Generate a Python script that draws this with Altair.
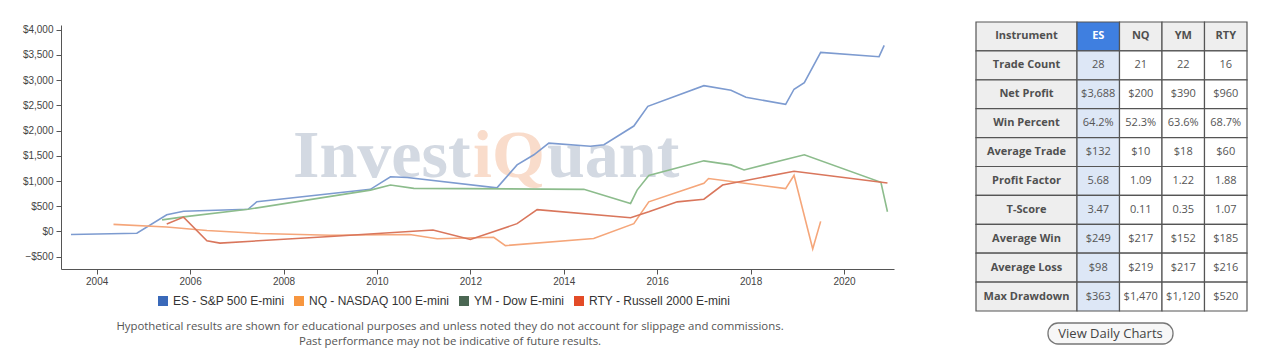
import altair as alt
import pandas as pd

# ---------------- data ----------------
series_names = ["ES - S&P 500 E-mini", "NQ - NASDAQ 100 E-mini", "YM - Dow E-mini", "RTY - Russell 2000 E-mini"]

es_year = [2003.45, 2004.86, 2005.50, 2005.86, 2007.24, 2007.43, 2009.86, 2010.29, 2010.65, 2012.57,
           2013.00, 2013.36, 2013.68, 2014.57, 2014.86, 2015.50, 2015.80, 2017.00, 2017.58, 2017.90,
           2018.75, 2018.93, 2019.15, 2019.50, 2020.75, 2020.86]
es_val = [-60, -35, 330, 400, 440, 590, 835, 1085, 1070, 865,
          1320, 1520, 1750, 1690, 1720, 2090, 2480, 2890, 2800, 2660,
          2520, 2820, 2950, 3550, 3465, 3688]

nq_year = [2004.36, 2005.50, 2006.36, 2007.50, 2009.00, 2010.70, 2011.29, 2012.50, 2012.75, 2014.64,
           2015.50, 2015.82, 2017.00, 2017.10, 2018.75, 2018.93, 2019.33, 2019.50]
nq_val = [140, 90, 20, -40, -75, -60, -145, -115, -280, -140,
          155, 587, 955, 1050, 850, 1115, -347, 200]

ym_year = [2005.40, 2005.86, 2007.24, 2009.86, 2010.29, 2010.79, 2014.43, 2015.43, 2015.57, 2015.82,
           2017.00, 2017.58, 2017.86, 2019.15, 2020.79, 2020.93]
ym_val = [230, 290, 440, 820, 920, 855, 835, 555, 820, 1110,
          1400, 1320, 1220, 1520, 975, 390]

rty_year = [2005.50, 2005.86, 2006.36, 2006.64, 2009.00, 2011.20, 2012.00, 2013.00, 2013.43, 2015.43,
            2015.82, 2016.43, 2017.00, 2017.40, 2018.93, 2020.93]
rty_val = [150, 285, -185, -230, -100, 30, -160, 155, 433, 273,
           390, 587, 640, 920, 1195, 960]

x_ticks = [2004, 2006, 2008, 2010, 2012, 2014, 2016, 2018, 2020]
y_ticks = [-500, 0, 500, 1000, 1500, 2000, 2500, 3000, 3500, 4000]

line_colors = ["#7d9bd0", "#f5a67a", "#8cbc8c", "#d9765c"]
legend_colors = ["#3a69b9", "#f7963f", "#4b6753", "#e34b27"]

# table data
table_cols = ["ES", "NQ", "YM", "RTY"]
table_rows = ["Instrument", "Trade Count", "Net Profit", "Win Percent", "Average Trade",
              "Profit Factor", "T-Score", "Average Win", "Average Loss", "Max Drawdown"]
es_stats = ["28", "$3,688", "64.2%", "$132", "5.68", "3.47", "$249", "$98", "$363"]
nq_stats = ["21", "$200", "52.3%", "$10", "1.09", "0.11", "$217", "$219", "$1,470"]
ym_stats = ["22", "$390", "63.6%", "$18", "1.22", "0.35", "$152", "$217", "$1,120"]
rty_stats = ["16", "$960", "68.7%", "$60", "1.88", "1.07", "$185", "$216", "$520"]

footnote_1 = "Hypothetical results are shown for educational purposes and unless noted they do not account for slippage and commissions."
footnote_2 = "Past performance may not be indicative of future results."

# ---------------- build frames ----------------
recs = []
for name, ys, vs in zip(series_names, [es_year, nq_year, ym_year, rty_year], [es_val, nq_val, ym_val, rty_val]):
    for i, (yr, v) in enumerate(zip(ys, vs)):
        recs.append({"series": name, "year": yr, "value": v, "idx": i})
df = pd.DataFrame(recs)

cells = []
for c, stats in zip(table_cols, [es_stats, nq_stats, ym_stats, rty_stats]):
    cells.append({"row": "Instrument", "col": c, "text": c,
                  "kind": "esHead" if c == "ES" else "head"})
    for r, t in zip(table_rows[1:], stats):
        cells.append({"row": r, "col": c, "text": t, "kind": "es" if c == "ES" else "cell"})
cells_df = pd.DataFrame(cells)
first_df = pd.DataFrame({"row": table_rows})
one = pd.DataFrame({"a": [0]})

W, H = 833, 244
FONT = "Liberation Sans"

x_enc = alt.X("year:Q", scale=alt.Scale(domain=[2003.236, 2021.07], nice=False, zero=False),
              axis=alt.Axis(values=x_ticks, format="d", title=None, grid=False, tickSize=5,
                            labelFontSize=10, labelColor="#444", domainColor="#555", tickColor="#555",
                            labelFont=FONT, labelPadding=2))
y_enc = alt.Y("value:Q", scale=alt.Scale(domain=[-744, 4093], nice=False, zero=False),
              axis=alt.Axis(values=y_ticks, format="$,.0f", title=None, grid=False, tickSize=5,
                            labelFontSize=10, labelColor="#444", domainColor="#555", tickColor="#555",
                            labelFont=FONT, labelPadding=3))

# small white block above the plot (keeps the top margin)
spacer = alt.Chart(one).mark_rect(fill="#ffffff").encode(
    x=alt.value(400), x2=alt.value(402), y=alt.value(-8), y2=alt.value(-4))

wm_invest = alt.Chart(one).mark_text(text="Invest", font="Liberation Serif", fontWeight="bold", fontSize=68,
                                     color="#d3d9e2", align="left", baseline="alphabetic").encode(
    x=alt.value(232), y=alt.value(152))
wm_iq = alt.Chart(one).mark_text(text="iQ", font="Liberation Serif", fontWeight="bold", fontSize=68,
                                 color="#f9dccb", align="left", baseline="alphabetic").encode(
    x=alt.value(412), y=alt.value(152))
wm_uant = alt.Chart(one).mark_text(text="uant", font="Liberation Serif", fontWeight="bold", fontSize=68,
                                   color="#d3d9e2", align="left", baseline="alphabetic").encode(
    x=alt.value(486), y=alt.value(152))

lines = alt.Chart(df).mark_line(strokeWidth=1.6).encode(
    x=x_enc, y=y_enc,
    color=alt.Color("series:N", scale=alt.Scale(domain=series_names, range=line_colors), legend=None),
    order="idx:Q")

legend_layer = alt.Chart(df).mark_square(opacity=0).encode(
    x=x_enc, y=y_enc,
    color=alt.Color("series:N", scale=alt.Scale(domain=series_names, range=legend_colors),
                    legend=alt.Legend(orient="none", legendX=96, legendY=270, direction="horizontal",
                                      title=None, symbolType="square", symbolSize=100, symbolStrokeWidth=0,
                                      labelFont=FONT, labelFontSize=12, labelColor="#333",
                                      labelLimit=0, columnPadding=8, labelOffset=4)))

foot1 = alt.Chart(one).mark_text(text=footnote_1, font="Open Sans", fontSize=11.4, color="#555",
                                 align="center", baseline="middle").encode(x=alt.value(389), y=alt.value(302))
foot2 = alt.Chart(one).mark_text(text=footnote_2, font="Open Sans", fontSize=11.4, color="#555",
                                 align="center", baseline="middle").encode(x=alt.value(389), y=alt.value(317))

line_chart = alt.layer(spacer, wm_invest, wm_iq, wm_uant, lines, legend_layer, foot1, foot2).resolve_scale(
    color="independent").properties(width=W, height=H)

# ---------------- table ----------------
TW, TH = 271, 289
FIRST = 101
TOP = -3
y_row = alt.Y("row:N", scale=alt.Scale(domain=table_rows, range=[TOP, TOP + TH], paddingInner=0, paddingOuter=0),
              axis=None)
x_col = alt.X("col:N", scale=alt.Scale(domain=table_cols, range=[FIRST, TW], paddingInner=0, paddingOuter=0),
              axis=None)

first_rect = alt.Chart(first_df).mark_rect(fill="#eeeeee", stroke="#555", strokeWidth=1.2).encode(
    x=alt.value(0), x2=alt.value(FIRST), y=y_row)
first_text = alt.Chart(first_df).mark_text(font="Open Sans", fontWeight="bold", fontSize=11, color="#505050").encode(
    x=alt.value(FIRST / 2), y=y_row, text="row:N")

cell_rect = alt.Chart(cells_df).mark_rect(stroke="#555", strokeWidth=1.2).encode(
    x=x_col, y=y_row,
    fill=alt.Fill("kind:N", scale=alt.Scale(domain=["esHead", "head", "es", "cell"],
                                            range=["#3f7fe0", "#eeeeee", "#dde7f6", "#ffffff"]), legend=None))
head_text = alt.Chart(cells_df).transform_filter("datum.row === 'Instrument'").mark_text(
    font="Open Sans", fontWeight="bold", fontSize=11).encode(
    x=x_col, y=y_row, text="text:N",
    color=alt.condition("datum.col === 'ES'", alt.value("#ffffff"), alt.value("#505050")))
body_text = alt.Chart(cells_df).transform_filter("datum.row !== 'Instrument'").mark_text(
    font="Open Sans", fontSize=11, color="#555").encode(x=x_col, y=y_row, text="text:N")

button_rect = alt.Chart(one).mark_rect(fill="#f7f7f7", stroke="#777", strokeWidth=1.3, cornerRadius=10).encode(
    x=alt.value(72), x2=alt.value(197), y=alt.value(298), y2=alt.value(319))
button_text = alt.Chart(one).mark_text(text="View Daily Charts", font="Open Sans", fontSize=13, color="#444").encode(
    x=alt.value(134.5), y=alt.value(308.5))

table = alt.layer(first_rect, first_text, cell_rect, head_text, body_text, button_rect, button_text).properties(
    width=TW, height=TH)

chart = alt.hconcat(line_chart, table, spacing=81).resolve_scale(color="independent", fill="independent").properties(
    padding={"left": 22, "top": 17, "right": 0, "bottom": 0},
    background="white"
).configure_view(stroke=None)

chart.save("out.html", embed_options={"renderer": "svg", "actions": False})
